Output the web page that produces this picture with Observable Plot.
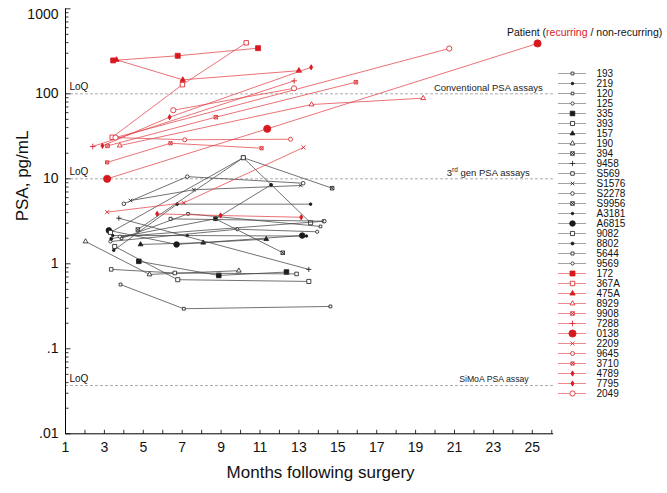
<!DOCTYPE html>
<html><head><meta charset="utf-8">
<script src="https://cdn.jsdelivr.net/npm/d3@7"></script>
<script src="https://cdn.jsdelivr.net/npm/@observablehq/plot@0.6"></script>
<style>
body{margin:0;background:#fff;font-family:"Liberation Sans",Arial,Helvetica,sans-serif;}
#wrap{position:relative;width:667px;height:493px;overflow:hidden;background:#fff;}
#wrap svg{position:absolute;top:0;}
#hdr{position:absolute;left:507px;top:25.5px;font-size:10.5px;line-height:12px;white-space:nowrap;color:#111;}
</style></head><body>
<div id="wrap"><div id="hdr">Patient (<span style="color:#d7191f">recurring</span> / non-recurring)</div></div>
<script>
// ---------------- data ----------------
const patients = ["193","219","120","125","335","393","157","190","394","9458","S569","S1576","S2278","S9956","A3181","A6815","9082","8802","5644","9569",
                  "172","367A","475A","8929","9908","7288","0138","2209","9645","3710","4789","7795","2049"];
const recurring = [0,0,0,0,0,0,0,0,0,0,0,0,0,0,0,0,0,0,0,0, 1,1,1,1,1,1,1,1,1,1,1,1,1];
const months = [
  [3.83,7.08,14.62],[3.43,7.26,13.39],[3.88,7.30,14.11],[3.31,9.83,13.94],[4.77,8.88,12.36],
  [3.53,6.77,13.51],[4.86,8.08,11.32],[2.03,5.32,9.91],[8.71,12.17],[3.74,13.51],
  [3.35,6.62,12.88],[4.34,7.60,13.10],[4.00,7.26,13.22],[4.72,10.14,14.71],[3.48,6.74,13.60],
  [3.23,6.71,13.17],[3.31,10.14,13.60],[3.35,8.71,11.57],[6.40,14.28],[3.79,14.32],
  [3.45,6.77,10.90],[3.40,7.01,10.29],[3.62,7.03,13.00],[3.79,13.65,19.39],[3.16,8.73,15.93],
  [2.40,12.76],[3.14,11.37,25.27],[3.14,7.08,13.24],[3.57,7.13,12.57],[3.14,6.40,11.08],
  [2.90,6.35,13.63],[5.71,8.97,13.12],[3.57,20.73,null,6.54,12.75]
];
const psa = [
  [0.57,0.296,0.315],[2.15,2.15,2.12],[1.99,3.87,2.75],[1.83,2.55,2.38],[1.07,0.73,0.80],
  [1.60,0.65,0.62],[1.69,1.77,1.95],[1.83,0.75,0.83],[3.38,1.35],[3.44,0.86],
  [0.86,0.78,0.76],[5.55,7.43,8.34],[5.08,10.6,8.87],[2.53,17.7,7.75],[1.44,5.03,5.03],
  [2.47,1.69,2.15],[2.34,17.7,3.04],[1.97,3.38,8.50],[3.38,3.17],[2.09,3.17],
  [247,280,344],[30.8,128,398],[251,146,187],[24.6,74.8,88.8],[24.4,53.1,137],
  [24.0,142],[10.0,38.7,391],[4.05,5.22,23.4],[30.6,28.8,29.2],[15.6,26.2,22.9],
  [24.4,53.1,205],[3.87,3.70,3.53],[30.6,341,null,64.1,116]
];
const xTickLabels = [1,3,5,7,9,11,13,15,17,19,21,23,25];
const xTickAll = [1,2,3,4,5,6,7,8,9,10,11,12,13,14,15,16,17,18,19,20,21,22,23,24,25,26];
const yTickValues = [0.01,0.1,1,10,100,1000];
const yTickLabels = [".01",".1","1","10","100","1000"];
const yMinorTicks = [0.02,0.03,0.04,0.05,0.06,0.07,0.08,0.09,0.2,0.3,0.4,0.5,0.6,0.7,0.8,0.9,2,3,4,5,6,7,8,9,20,30,40,50,60,70,80,90,200,300,400,500,600,700,800,900];
const loqValues = [100, 10, 0.037];
const loqLabels = ["Conventional PSA assays", "3rd gen PSA assays", "SiMoA PSA assay"];

// ---------------- styles ----------------
const shape = ["square","circle","square","circle","square","square","triangle","triangle","sqx","plus",
               "square","times","circle","sqx","circle","circle","square","circle","square","circle",
               "square","square","triangle","triangle","sqx","plus","circle","times","circle","sqx","diamond","diamond","circle"];
const filled = [0,1,0,0,1,0,1,0,0,0, 0,0,0,0,1,1,0,1,0,0, 1,0,1,0,0,0,1,0,0,0,1,1,0];
const rad = [1.6,1.3,1.5,1.6,2.6,2.3,1.8,1.8,2.0,1.8, 2.0,1.8,1.8,2.0,1.3,2.8,2.3,1.5,1.7,1.6,
             2.8,2.5,2.0,1.8,2.0,2.0,3.6,2.0,2.0,1.8,1.6,1.6,2.6];
const BLACK_LINE = "#444", BLACK_MARK = "#1a1a1a", RED_LINE = "#e3444a", RED_MARK = "#d7191f";
const FONT = '"Liberation Sans", Arial, Helvetica, sans-serif';

const table = patients.flatMap((p, i) => months[i].map((m, j) => ({patient: p, i, rec: recurring[i], month: m, psa: psa[i][j]})));

function dotMarks(data, i, xOpt) {
  const rec = recurring[i];
  const col = rec ? RED_MARK : BLACK_MARK;
  const s = shape[i], r = rad[i];
  const base = Object.assign({r, stroke: col, strokeWidth: 0.8}, xOpt);
  if (s === "sqx") return [
    Plot.dot(data, Object.assign({}, base, {symbol: "square", fill: "white"})),
    Plot.dot(data, Object.assign({}, base, {symbol: "times", r: r * 0.9, fill: "none"}))
  ];
  if (s === "plus" || s === "times") return [Plot.dot(data, Object.assign({}, base, {symbol: s, fill: "none"}))];
  return [Plot.dot(data, Object.assign({}, base, {symbol: s, fill: filled[i] ? col : "white"}))];
}

const order = [...patients.keys()].filter(i => !recurring[i]).concat([...patients.keys()].filter(i => recurring[i]));
const seriesMarks = order.flatMap(i => {
  const d = table.filter(t => t.i === i);
  const pts = d.filter(t => t.month != null);
  return [
    Plot.line(d, {x: "month", y: "psa", stroke: recurring[i] ? RED_LINE : BLACK_LINE, strokeWidth: 0.75}),
    ...dotMarks(pts, i, {x: "month", y: "psa"})
  ];
});

const tickUp = L => ({draw(c) { c.moveTo(0, 0); c.lineTo(0, -L); }});
const tickRight = L => ({draw(c) { c.moveTo(0, 0); c.lineTo(L, 0); }});

const main = Plot.plot({
  width: 667, height: 493,
  marginLeft: 65, marginRight: 113.8, marginTop: 8.3, marginBottom: 59.7,
  x: {domain: [1, 26.1], axis: null},
  y: {type: "log", domain: [0.01, 1000], axis: null},
  style: {fontFamily: FONT, background: "transparent", color: "#111", overflow: "visible"},
  marks: [
    Plot.ruleY(loqValues, {y: d => d, stroke: "#999", strokeWidth: 0.8, strokeDasharray: "3,2"}),
    Plot.text(loqValues, {x: 1, y: d => d, text: () => "LoQ", dx: 4, dy: -7, textAnchor: "start", fontSize: 10, fill: "#111"}),
    Plot.text([0], {x: 26.1, y: loqValues[0], text: () => loqLabels[0], dx: -11, dy: -6, textAnchor: "end", fontSize: 9.5, fill: "#222"}),
    Plot.text([1], {x: 26.1, y: loqValues[1], text: () => loqLabels[1], dx: -24, dy: -6, textAnchor: "end", fontSize: 9.5, fill: "#222"}),
    Plot.text([2], {x: 26.1, y: loqValues[2], text: () => loqLabels[2], dx: -25, dy: -6, textAnchor: "end", fontSize: 8.7, fill: "#222"}),
    ...seriesMarks,
    // axes
    Plot.ruleX([1], {y1: 0.01, y2: 1000, stroke: "#000", strokeWidth: 1}),
    Plot.ruleY([0.01], {x1: 1, x2: 26.1, stroke: "#000", strokeWidth: 1}),
    Plot.dot(xTickAll, {x: d => d, y: 0.01, symbol: tickUp(4), fill: "none", stroke: "#000", strokeWidth: 0.8}),
    Plot.dot(yTickValues, {x: 1, y: d => d, symbol: tickRight(5), fill: "none", stroke: "#000", strokeWidth: 0.8}),
    Plot.dot(yMinorTicks, {x: 1, y: d => d, symbol: tickRight(3), fill: "none", stroke: "#000", strokeWidth: 0.8}),
    Plot.text(xTickLabels, {x: d => d, y: 0.01, text: d => String(d), dy: 14, fontSize: 14, fill: "#111"}),
    Plot.text(yTickValues.slice(0, 5), {x: 1, y: d => d, text: (d, i) => yTickLabels[i], dx: -7, textAnchor: "end", fontSize: 14, fill: "#111"}),
    Plot.text([yTickValues[5]], {x: 1, y: d => d, text: () => yTickLabels[5], dx: -7, dy: 6, textAnchor: "end", fontSize: 14, fill: "#111"}),
    Plot.text(["Months following surgery"], {frameAnchor: "bottom", text: d => d, dx: 11, dy: 44, fontSize: 17, fill: "#111"}),
    Plot.text(["PSA, pg/mL"], {frameAnchor: "left", text: d => d, dx: -43, rotate: -90, fontSize: 17, fill: "#111"})
  ]
});

// superscript for "3rd"
d3.select(main).selectAll("text").filter(function() { return this.textContent === "3rd gen PSA assays"; })
  .each(function() {
    const t = d3.select(this); t.text(null);
    t.append("tspan").text("3");
    t.append("tspan").attr("dy", -4).attr("font-size", 6.5).text("rd");
    t.append("tspan").attr("dy", 4).text(" gen PSA assays");
  });

// ---------------- legend ----------------
const legIdx = [...patients.keys()];
const legend = Plot.plot({
  width: 115, height: 493,
  x: {domain: [0, 1], range: [6, 34], axis: null},
  y: {type: "point", domain: patients, range: [59.3, 406.2], axis: null},
  style: {fontFamily: FONT, background: "transparent"},
  marks: [
    Plot.ruleY(patients.filter((p, i) => !recurring[i]), {y: d => d, x1: 0, x2: 1, stroke: "#8a8a8a", strokeWidth: 0.8}),
    Plot.ruleY(patients.filter((p, i) => recurring[i]), {y: d => d, x1: 0, x2: 1, stroke: "#e66b6f", strokeWidth: 0.8}),
    ...legIdx.flatMap(i => dotMarks([patients[i]], i, {x: () => 0.5, y: d => d})),
    Plot.text(patients, {x: 1, y: d => d, text: d => d, dx: 10, textAnchor: "start", fontSize: 10, fill: "#111"})
  ]
});
legend.style.left = "552px";

const wrap = document.getElementById("wrap");
main.style.left = "0px";
wrap.appendChild(main);
wrap.appendChild(legend);
</script>
</body></html>
